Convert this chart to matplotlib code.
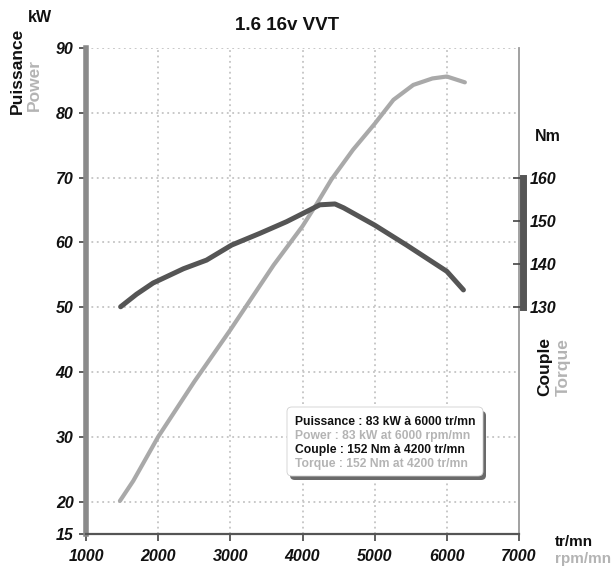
import numpy as np
import matplotlib
matplotlib.use("Agg")
import matplotlib.pyplot as plt
from matplotlib.patches import FancyBboxPatch

plt.rcParams.update({
    "font.family": ["Liberation Sans", "DejaVu Sans"],
    "font.size": 10,
})

# ── data ────────────────────────────────────────────────────────────────────
power_rpm = [1470, 1655, 2000, 2500, 3000, 3270, 3600, 4000, 4200, 4400,
             4700, 5000, 5260, 5535, 5800, 6000, 6250]
power_kw  = [20.1, 23.2, 30.0, 38.5, 46.5, 51.0, 56.5, 62.5, 66.0, 69.7,
             74.3, 78.3, 82.0, 84.3, 85.3, 85.6, 84.7]

torque_rpm = [1480, 1700, 1930, 2350, 2670, 3020, 3410, 3780, 4100, 4240,
              4450, 4570, 5000, 5440, 6000, 6230]
torque_nm  = [130.1, 133.0, 135.6, 138.9, 140.9, 144.4, 147.1, 149.8, 152.5,
              153.7, 153.9, 153.0, 149.0, 144.4, 138.3, 134.0]

x_ticks  = [1000, 2000, 3000, 4000, 5000, 6000, 7000]
kw_ticks = [15, 20, 30, 40, 50, 60, 70, 80, 90]
nm_ticks = [130, 140, 150, 160]

legend_lines = [
    ("Puissance : 83 kW à 6000 tr/mn", "#111111"),
    ("Power : 83 kW at 6000 rpm/mn", "#b4b4b4"),
    ("Couple : 152 Nm à 4200 tr/mn", "#111111"),
    ("Torque : 152 Nm at 4200 tr/mn", "#b4b4b4"),
]

C_DARK  = "#555555"
C_LIGHT = "#a9a9a9"
C_GREYTXT = "#b4b4b4"

W, H = 614, 573
fig = plt.figure(figsize=(W / 100, H / 100), dpi=100, facecolor="white")
L, R, T, B = 86, 519, 48, 534
ax = fig.add_axes([L / W, 1 - B / H, (R - L) / W, (B - T) / H])

def fx(px):
    return px / W

def fy(py):
    return 1 - py / H

# ── grid ────────────────────────────────────────────────────────────────────
ax.set_xlim(1000, 7000)
ax.set_ylim(15, 90)
for xv in x_ticks[1:-1]:
    ax.axvline(xv, color="#c4c4c4", lw=1.3, ls=(0, (1, 2)), zorder=0)
for yv in kw_ticks[1:]:
    ax.axhline(yv, color="#c4c4c4", lw=1.3, ls=(0, (1, 2)), zorder=0)

# ── curves ──────────────────────────────────────────────────────────────────
ax.plot(power_rpm, power_kw, color=C_LIGHT, lw=3.0, solid_capstyle="round",
        solid_joinstyle="round", zorder=3)

ax2 = ax.twinx()
ax2.set_ylim(130 + (15 - 50) * 1.5, 130 + (90 - 50) * 1.5)
ax2.plot(torque_rpm, torque_nm, color=C_DARK, lw=3.6, solid_capstyle="round",
         solid_joinstyle="round", zorder=4)

# ── spines and ticks ────────────────────────────────────────────────────────
ax.spines["top"].set_visible(False)
ax.spines["left"].set_color("#8a8a8a")
ax.spines["left"].set_linewidth(4)
ax.spines["bottom"].set_color("#555555")
ax.spines["bottom"].set_linewidth(1.6)
ax.spines["right"].set_color("#9a9a9a")
ax.spines["right"].set_linewidth(1.3)

ax.set_xticks(x_ticks)
ax.set_yticks(kw_ticks)
ax.tick_params(axis="both", direction="out", length=5, width=1.2, color="#444444")
ax.tick_params(axis="y", pad=4)
ax.tick_params(axis="x", pad=6)
for lab in ax.get_xticklabels() + ax.get_yticklabels():
    lab.set_fontweight("bold")
    lab.set_fontstyle("italic")
    lab.set_fontsize(11.5)
    lab.set_color("#111111")

for s in ("top", "left", "bottom"):
    ax2.spines[s].set_visible(False)
ax2.spines["right"].set_bounds(130, 160)
ax2.spines["right"].set_linewidth(5)
ax2.spines["right"].set_color(C_DARK)
ax2.spines["right"].set_position(("outward", 3))
ax2.set_yticks(nm_ticks)
ax2.tick_params(axis="y", direction="in", length=7, width=1.2, color="#444444", pad=5)
for lab in ax2.get_yticklabels():
    lab.set_fontweight("bold")
    lab.set_fontstyle("italic")
    lab.set_fontsize(11.5)
    lab.set_color("#111111")

# ── legend box ──────────────────────────────────────────────────────────────
bx0, by0, bx1, by1 = 287, 407, 483, 476
shadow = FancyBboxPatch((fx(bx0 + 3), fy(by1 + 4)), fx(bx1 - bx0), fy(by0) - fy(by1),
                        boxstyle="round,pad=0,rounding_size=0.008",
                        transform=fig.transFigure, facecolor="#6a6a6a",
                        edgecolor="none", zorder=5)
box = FancyBboxPatch((fx(bx0), fy(by1)), fx(bx1 - bx0), fy(by0) - fy(by1),
                     boxstyle="round,pad=0,rounding_size=0.008",
                     transform=fig.transFigure, facecolor="white",
                     edgecolor="#d0d0d0", lw=0.6, zorder=6)
fig.patches.extend([shadow, box])
for i, (txt, col) in enumerate(legend_lines):
    fig.text(fx(295), fy(422 + i * 14), txt, color=col, fontsize=8.7,
             fontweight="bold", ha="left", va="center", zorder=7)

# ── titles and axis captions ────────────────────────────────────────────────
fig.text(fx(287), fy(25), "1.6 16v VVT", fontsize=13.5, fontweight="bold",
         ha="center", va="center", color="#111111")
fig.text(fx(40), fy(17), "kW", fontsize=11.5, fontweight="bold",
         ha="center", va="center", color="#111111")
fig.text(fx(17), fy(114), "Puissance", fontsize=12.5, fontweight="bold",
         rotation=90, ha="center", va="bottom", color="#111111")
fig.text(fx(34), fy(111), "Power", fontsize=12.5, fontweight="bold",
         rotation=90, ha="center", va="bottom", color=C_GREYTXT)
fig.text(fx(548), fy(137), "Nm", fontsize=11.5, fontweight="bold",
         ha="center", va="center", color="#111111")
fig.text(fx(545), fy(396), "Couple", fontsize=12.5, fontweight="bold",
         rotation=90, ha="center", va="bottom", color="#111111")
fig.text(fx(563), fy(396), "Torque", fontsize=12.5, fontweight="bold",
         rotation=90, ha="center", va="bottom", color=C_GREYTXT)
fig.text(fx(555), fy(542), "tr/mn", fontsize=11, fontweight="bold",
         ha="left", va="center", color="#111111")
fig.text(fx(555), fy(559), "rpm/mn", fontsize=11, fontweight="bold",
         ha="left", va="center", color=C_GREYTXT)

fig.savefig("out.png", dpi=100, facecolor="white")
